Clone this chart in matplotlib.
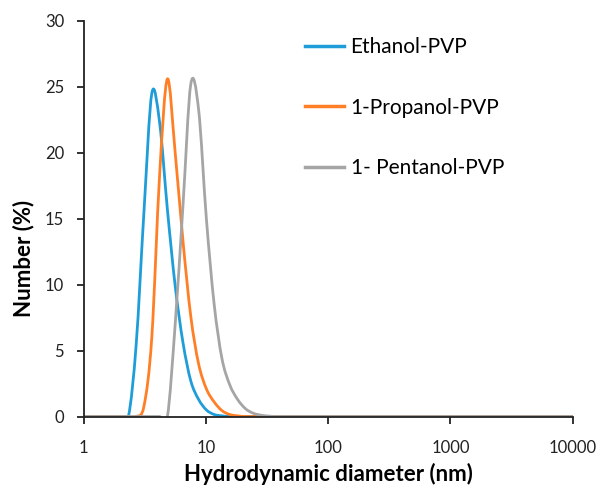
import numpy as np
import matplotlib.pyplot as plt
from matplotlib.path import Path
from matplotlib.patches import PathPatch
from matplotlib.lines import Line2D

# DLS size bins (nm)
diameters = [0.8332, 0.9649, 1.117, 1.294, 1.499, 1.736, 2.01, 2.328, 2.696, 3.122,
             3.615, 4.187, 4.849, 5.615, 6.503, 7.531, 8.721, 10.1, 11.7, 13.54,
             15.69, 18.17, 21.04, 24.36, 28.21, 32.67, 37.84, 43.82, 50.75, 58.77,
             68.06, 78.82, 91.28, 105.7, 122.4, 141.8, 164.2, 190.1, 220.2, 255.0,
             295.3, 342.0, 396.1, 458.7, 531.2, 615.1, 712.4, 825.0, 955.4, 1106,
             1281, 1484, 1718, 1990, 2305, 2669, 3091, 3580, 4145, 4801,
             5560, 6439, 7456, 8635, 10000]

ethanol = [0] * 7 + [0, 5.5, 15.6, 24.5, 22.3, 15.7, 9.9, 5.6, 2.7, 1.3, 0.5, 0.15, 0.05]
propanol = [0] * 9 + [0.8, 6.0, 18.3, 25.6, 20.0, 13.3, 7.6, 4.0, 2.1, 1.1, 0.45, 0.15, 0.05]
pentanol = [0] * 13 + [7.0, 16.0, 25.2, 23.3, 15.0, 8.5, 4.4, 2.4, 1.3, 0.6, 0.25, 0.1, 0.03]

labels = ["Ethanol-PVP", "1-Propanol-PVP", "1- Pentanol-PVP"]
colors = ["#1f9dd9", "#ff7f27", "#a5a5a5"]


def pad(vals):
    return vals + [0] * (len(diameters) - len(vals))


def smooth_path(xs, ys):
    # Excel-style smoothed line: Catmull-Rom bezier in log-x space
    lx = np.log10(xs)
    pts = np.column_stack([lx, ys])
    n = len(pts)
    verts = [(xs[0], ys[0])]
    codes = [Path.MOVETO]
    for i in range(n - 1):
        p0 = pts[i - 1] if i > 0 else pts[i]
        p1, p2 = pts[i], pts[i + 1]
        p3 = pts[i + 2] if i + 2 < n else p2
        c1 = p1 + (p2 - p0) / 6
        c2 = p2 - (p3 - p1) / 6
        verts += [(10 ** c1[0], c1[1]), (10 ** c2[0], c2[1]), (xs[i + 1], ys[i + 1])]
        codes += [Path.CURVE4] * 3
    return Path(verts, codes)


plt.rcParams['font.family'] = ['Lato', 'DejaVu Sans']

fig = plt.figure(figsize=(6.01, 4.86), dpi=100)
ax = fig.add_axes([0.139, 0.143, 0.814, 0.814])
ax.set_xscale('log')
ax.set_xlim(1, 10000)
ax.set_ylim(0, 30)

handles = []
for vals, lab, col in zip([ethanol, propanol, pentanol], labels, colors):
    p = PathPatch(smooth_path(diameters, pad(vals)), fill=False, edgecolor=col,
                  lw=2.0, joinstyle='round', capstyle='round')
    ax.add_patch(p)
    handles.append(Line2D([], [], color=col, lw=2.5, label=lab))

ax.set_xticks([1, 10, 100, 1000, 10000])
ax.set_xticklabels(["1", "10", "100", "1000", "10000"])
ax.minorticks_off()
ax.set_yticks(range(0, 31, 5))

for side in ('top', 'right'):
    ax.spines[side].set_visible(False)
for side in ('left', 'bottom'):
    ax.spines[side].set_linewidth(1.3)
    ax.spines[side].set_color('#222222')
ax.tick_params(axis='both', direction='out', length=5, width=1.3, color='#222222',
               labelsize=12, labelcolor='#222222')
ax.tick_params(axis='x', pad=12)
ax.tick_params(axis='y', pad=9)

ax.set_xlabel("Hydrodynamic diameter (nm)", fontsize=16, fontweight='bold')
ax.xaxis.set_label_coords(0.5, -0.118)
ax.set_ylabel("Number (%)", fontsize=16, fontweight='bold')
ax.yaxis.set_label_coords(-0.1, 0.4)

ax.legend(handles=handles, loc='upper left', bbox_to_anchor=(0.4365, 0.98), frameon=False,
          fontsize=15, handlelength=1.85, handletextpad=0.32, labelspacing=1.95,
          borderaxespad=0)

fig.savefig("out.png", dpi=100)
